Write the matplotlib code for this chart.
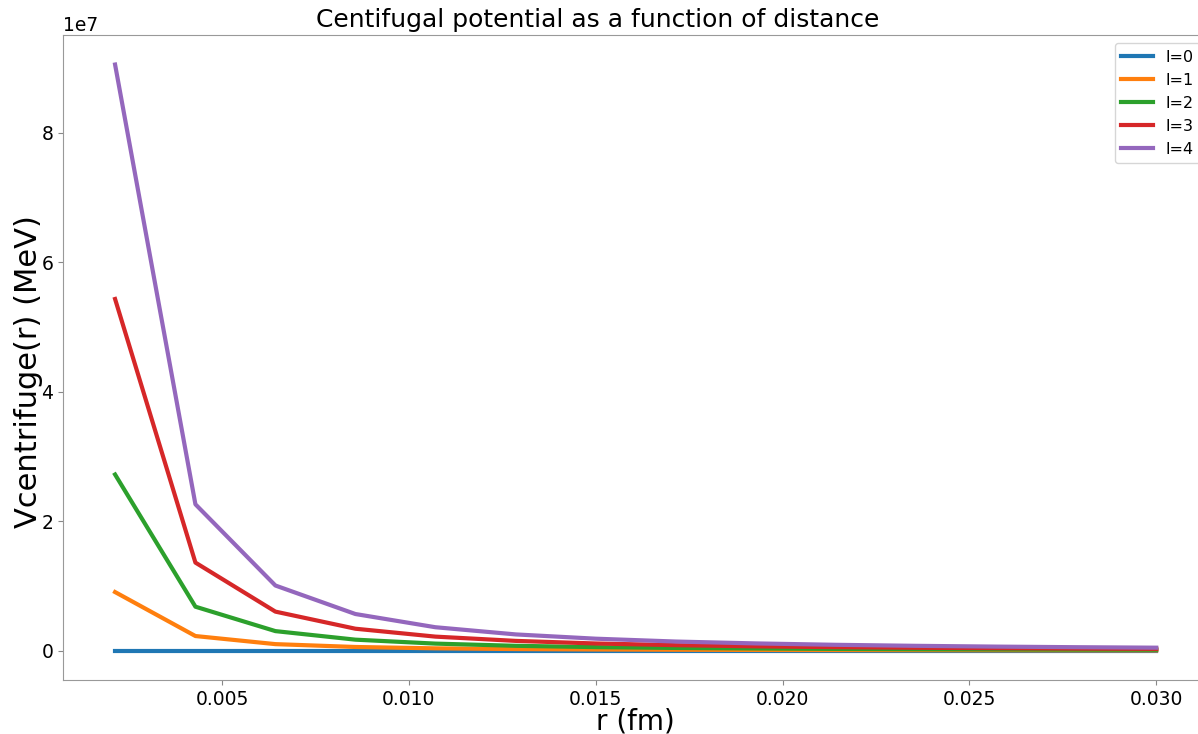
import numpy as np
import matplotlib
matplotlib.use('Agg')
import matplotlib.pyplot as plt

# r values (fm)
r = [0.00214, 0.00429, 0.00643, 0.00857, 0.01071, 0.01286, 0.01500,
     0.01714, 0.01929, 0.02143, 0.02357, 0.02571, 0.02786, 0.03000]

# centrifugal potential (MeV) for each l, estimated from the curves
v_l0 = [0, 0, 0, 0, 0, 0, 0, 0, 0, 0, 0, 0, 0, 0]
v_l1 = [9.05e6, 2.26e6, 1.01e6, 5.7e5, 3.6e5, 2.5e5, 1.8e5,
        1.4e5, 1.1e5, 9.0e4, 7.5e4, 6.3e4, 5.4e4, 4.6e4]
v_l2 = [2.72e7, 6.79e6, 3.02e6, 1.70e6, 1.09e6, 7.5e5, 5.5e5,
        4.2e5, 3.4e5, 2.7e5, 2.2e5, 1.9e5, 1.6e5, 1.4e5]
v_l3 = [5.43e7, 1.36e7, 6.03e6, 3.39e6, 2.17e6, 1.51e6, 1.11e6,
        8.5e5, 6.7e5, 5.4e5, 4.5e5, 3.8e5, 3.2e5, 2.8e5]
v_l4 = [9.05e7, 2.26e7, 1.006e7, 5.66e6, 3.62e6, 2.51e6, 1.85e6,
        1.41e6, 1.12e6, 9.05e5, 7.48e5, 6.28e5, 5.36e5, 4.62e5]

labels = ['l=0', 'l=1', 'l=2', 'l=3', 'l=4']

fig = plt.figure(figsize=(11.98, 7.34), dpi=100)
ax = fig.add_axes([0.0526, 0.0736, 0.956, 0.8784])

for v, lab in zip([v_l0, v_l1, v_l2, v_l3, v_l4], labels):
    ax.plot(r, v, linewidth=3, label=lab)

ax.set_title('Centifugal potential as a function of distance', fontsize=18, x=0.467)
ax.set_xlabel('r (fm)', fontsize=20, labelpad=-1)
ax.set_ylabel('Vcentrifuge(r) (MeV)', fontsize=22, labelpad=-1.5, y=0.479)
ax.tick_params(labelsize=13.5, color='#888888')
ax.yaxis.get_offset_text().set_fontsize(13.5)
for s in ax.spines.values():
    s.set_color('#999999')
ax.legend(loc='upper right', fontsize=11.5)

fig.savefig('out.png', dpi=100)
